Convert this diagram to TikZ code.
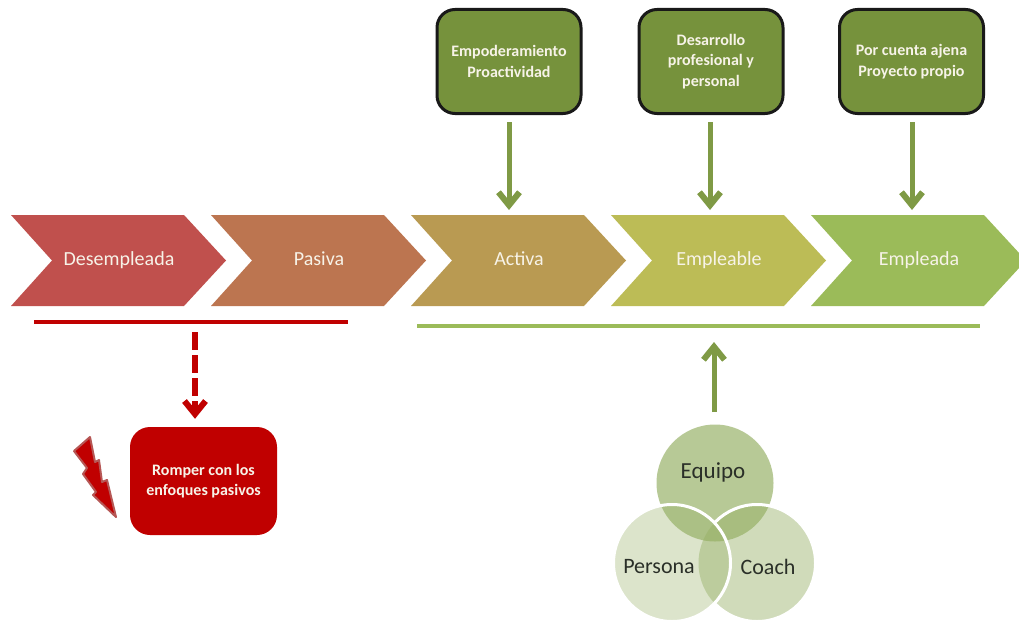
\documentclass[tikz,border=0pt]{standalone}
\usepackage{fontspec}
\setmainfont{Carlito}
\usetikzlibrary{arrows.meta}
\definecolor{boxgreen}{HTML}{76923C}
\definecolor{arrowgreen}{HTML}{7F9A45}
\definecolor{linegreen}{HTML}{9BBB59}
\definecolor{venngreen}{HTML}{95AF63}
\definecolor{darkred}{HTML}{C00000}
\definecolor{boltedge}{HTML}{C0504D}
\definecolor{softwhite}{HTML}{F7F3E8}
\definecolor{venntext}{HTML}{2A2F28}
\definecolor{chevb}{RGB}{188,117,80}
\definecolor{chevc}{RGB}{185,154,82}
\definecolor{chevd}{RGB}{188,188,86}
\tikzset{
  chevtext/.style={font=\fontsize{20}{22}\selectfont,text=softwhite,minimum width=215pt,text height=14pt,text depth=4pt,inner sep=0pt},
  goalbox/.style={draw=black!90,line width=3pt,fill=boxgreen,rounded corners=18pt,minimum width=144pt,minimum height=104pt,inner sep=0pt,align=center,text=softwhite,font=\fontsize{16}{20.5}\selectfont\bfseries},
  redbox/.style={fill=darkred,rounded corners=20pt,minimum width=147pt,minimum height=108pt,inner sep=0pt,align=center,text=softwhite,font=\fontsize{16}{20.5}\selectfont\bfseries},
  flowarrow/.style={draw=arrowgreen,line width=5pt,-{Straight Barb[length=13pt,width=21pt,line width=6pt]}},
  redarrow/.style={draw=darkred,line width=6pt,dash pattern=on 18pt off 5pt,-{Straight Barb[length=13pt,width=21pt,line width=6pt]}},
  venn/.style={circle,minimum size=117pt,inner sep=0pt,fill=venngreen},
  venntxt/.style={text=venntext,font=\fontsize{22}{24}\selectfont},
}
\newcommand{\chevron}[4]{%
  \fill[#3] (#2,215)--(#2+173,215)--(#2+215,260.5)--(#2+173,306)--(#2,306)--(#2+41,260.5)--cycle;
  \node[chevtext] (#1) at (#2+108,260) {#4};}
\begin{document}
\begin{tikzpicture}[x=1pt,y=-1pt]
\useasboundingbox (0,0) rectangle (1019,626);
\fill[white] (0,0) rectangle (1019,626);
\begin{scope}
\clip (0,0) rectangle (1019,626);
\chevron{c1}{11}{boltedge}{Desempleada}
\chevron{c2}{211}{chevb}{Pasiva}
\chevron{c3}{411}{chevc}{Activa}
\chevron{c4}{611}{chevd}{Empleable}
\chevron{c5}{811}{linegreen}{Empleada}
\end{scope}
\coordinate (t3) at (509,215); \coordinate (t4) at (710,215); \coordinate (t5) at (912,215);
% goal boxes
\node[goalbox] (b1) at (509,61.5) {Empoderamiento\\Proactividad};
\node[goalbox] (b2) at (711,61.5) {Desarrollo\\profesional y\\personal};
\node[goalbox] (b3) at (911.5,61.5) {Por cuenta ajena\\Proyecto propio};
\draw[flowarrow,shorten <=7pt,shorten >=5pt] (b1.south) -- (t3);
\draw[flowarrow,shorten <=7pt,shorten >=5pt] (b2.south -| t4) -- (t4);
\draw[flowarrow,shorten <=7pt,shorten >=5pt] (b3.south -| t5) -- (t5);
% bars
\coordinate (rl) at (34,322); \coordinate (rr) at (348,322);
\coordinate (gl) at (417,326); \coordinate (gr) at (980,326);
\draw[darkred,line width=4.5pt] (rl) -- (rr);
\draw[linegreen,line width=4.5pt] (gl) -- (gr);
% red box
\node[redbox] (rb) at (203.5,481) {Romper con los\\enfoques pasivos};
\coordinate (rs) at (195,332);
\draw[redarrow,shorten >=8pt] (rs) -- (rs |- rb.north);
% lightning
\filldraw[fill=darkred,draw=boltedge!85!gray,line width=2pt,line join=round]
  (90,437)--(74,451)--(87,468)--(83,474)--(96,492)--(93,495)--(116,517)
  --(107,480)--(102,482)--(99,460)--(95,462)--cycle;
% venn
\node[venn,fill opacity=.67] (eq) at (715,483) {};
\node[venn,fill opacity=.44] (co) at (757,563) {};
\node[venn,fill opacity=.33] (pe) at (672,563) {};
\begin{scope}[even odd rule]
\clip (0,0) rectangle (1019,626) (pe.center) circle (58.5);
\draw[white,line width=3pt] (co.center) circle (58.5);
\end{scope}
\draw[white,line width=3pt] (pe.center) circle (58.5);
\node[venntxt,font=\fontsize{23}{24}\selectfont] (teq) at (713,472) {Equipo};
\node[venntxt] (tpe) at (659,567) {Persona};
\node[venntxt] (tco) at (768,567) {Coach};
\coordinate (us) at (714,412); \coordinate (ue) at (714,326);
\draw[flowarrow,shorten >=16pt] (us) -- (ue);
\end{tikzpicture}
\end{document}
